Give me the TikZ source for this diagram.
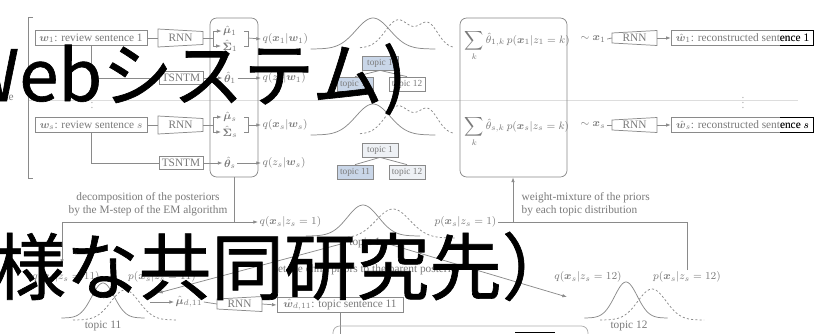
\documentclass[tikz,border=0pt]{standalone}
\usepackage{fontspec}
\setmainfont{Liberation Serif}
\newfontfamily\jpfont[FakeBold=0.9]{Noto Sans CJK JP}
\usepackage{bm}
\usetikzlibrary{arrows.meta,calc}
\definecolor{gtx}{HTML}{7A7A7A}
\definecolor{gln}{HTML}{8A8A8A}
\definecolor{sepc}{HTML}{DDDDDD}
\definecolor{tblue}{HTML}{C9D6E8}
\definecolor{tlight}{HTML}{EEF1F5}
\newcommand\encrnn[3]{%
  \node[lbl] (#1) at (#2,#3) {RNN};
  \coordinate (#1w) at ($(#1)+(-22.5,0)$);
  \coordinate (#1e) at ($(#1)+(22.5,0)$);
  \draw[ln] ($(#1)+(-22.5,-9)$) -- ($(#1)+(22.5,-6.5)$) -- ($(#1)+(22.5,6.5)$) -- ($(#1)+(-22.5,9)$) -- cycle;}
\newcommand\decrnn[3]{%
  \node[lbl] (#1) at (#2,#3) {RNN};
  \coordinate (#1w) at ($(#1)+(-22.5,0)$);
  \coordinate (#1e) at ($(#1)+(22.5,0)$);
  \draw[ln] ($(#1)+(-22.5,-5)$) -- ($(#1)+(22.5,-7.5)$) -- ($(#1)+(22.5,7.5)$) -- ($(#1)+(-22.5,5)$) -- cycle;}
\newcommand\gsolid[4]{% center, base, height, a
  \draw[ln] plot[domain=-2.6*#4:2.6*#4, samples=60, smooth] ({#1+\x},{#2-#3*exp(0-(\x/#4)*(\x/#4))});}
\newcommand\gdash[4]{%
  \draw[ln, dash pattern=on 1.6pt off 1.6pt] plot[domain=-2.6*#4:2.6*#4, samples=60, smooth] ({#1+\x},{#2-#3*exp(0-(\x/#4)*(\x/#4))});}
\begin{document}
\begin{tikzpicture}[x=0.75pt,y=-0.75pt,
  every node/.style={text=gtx, font=\fontsize{8.5}{10}\selectfont},
  ln/.style={draw=gln, line width=0.55pt},
  arr/.style={ln, -{Latex[length=3.5pt,width=2.6pt]}},
  sbox/.style={draw=gln, line width=0.55pt, minimum height=11.5pt, inner sep=1.5pt},
  tbox/.style={draw=gln, line width=0.55pt, minimum width=27pt, minimum height=10.5pt, inner sep=0.5pt, font=\fontsize{7}{8}\selectfont},
  lbl/.style={inner sep=1pt},
  jp/.style={text=black, inner sep=0pt},
]
\useasboundingbox (0,0) rectangle (827,333);
\clip (0,0) rectangle (827,333);
\fill[white] (0,0) rectangle (827,333);

% separator and brackets
\draw[sepc, line width=0.6pt] (28,100) -- (798,100);
\draw[ln] (33,17) -- (28,17) -- (28,178) -- (33,178);
\node[anchor=east, inner sep=0pt] (ce) at (14,98) {ce};
\node[text=gln!70] (vd1) at (92,99) {$\vdots$};
\node[text=gln!70] (vd2) at (743,99) {$\vdots$};

% encoder box and mixture box
\node[draw=gln, line width=0.55pt, rounded corners=5pt, minimum width=36pt, minimum height=119.25pt, inner sep=0pt] (enc) at (234,97.5) {};
\node[draw=gln, line width=0.55pt, rounded corners=5pt, minimum width=80.25pt, minimum height=119.25pt, inner sep=0pt] (mix) at (513.5,97.5) {};

% ---------- row 1 ----------
\node[sbox, minimum width=84pt] (w1) at (91,38) {$\bm{w}_1$: review sentence 1};
\encrnn{r1}{180.5}{38}
\draw[ln] (w1.east) -- (r1w);
\coordinate (b1) at (213,38);
\draw[ln] (r1e) -- (b1);
\node[lbl] (mu1) at (230,31) {$\hat{\bm{\mu}}_1$};
\node[lbl] (sg1) at (230,46) {$\hat{\bm{\Sigma}}_1$};
\draw[arr] (b1) |- (mu1.west);
\draw[arr] (b1) |- (sg1.west);
\draw[ln] (244,31) -- (248,31) -- (248,46) -- (244,46);
\coordinate (k1) at (248,38);
\node[lbl, anchor=west] (qx1) at (261,39) {$q(\bm{x}_1|\bm{w}_1)$};
\draw[arr] (k1) -- (qx1.west);
\node[sbox, minimum width=33pt, minimum height=10pt] (ts1) at (181,78) {TSNTM};
\draw[ln] (w1.south) |- (ts1.west);
\node[lbl] (th1) at (230,78) {$\hat{\bm{\theta}}_1$};
\draw[arr] (ts1.east) -- (th1.west);
\node[lbl, anchor=west] (qz1) at (261,78) {$q(z_1|\bm{w}_1)$};
\draw[arr] (th1.east) -- (qz1.west);

\gsolid{373}{49}{31}{24}
\draw[ln, dash pattern=on 1.6pt off 1.6pt] plot[domain=360:454, samples=70, smooth] (\x,{48-28*exp(0-((\x-398)/18)*((\x-398)/18))-24*exp(0-((\x-428)/14)*((\x-428)/14))});
\node[tbox, fill=tblue] (ta1) at (380,63) {topic 1};
\node[tbox, fill=tblue] (ta11) at (355,84) {topic 11};
\node[tbox, fill=white] (ta12) at (407,84) {topic 12};
\draw[ln] (ta1.south) -- (ta11.north);
\draw[ln] (ta1.south) -- (ta12.north);

\node[lbl, anchor=base west] (f1) at (463,43) {$\displaystyle\sum_k \hat{\theta}_{1,k}\, p(\bm{x}_1|z_1=k)$};
\node[lbl, anchor=west] (sx1) at (579,39) {$\sim\bm{x}_1$};
\decrnn{d1}{634.5}{38}
\draw[ln] (sx1.east) -- (d1w);
\node[sbox, minimum width=107pt] (o1) at (742.5,38) {$\hat{\bm{w}}_1$: reconstructed sentence 1};
\draw[arr] (d1e) -- (o1.west);

% ---------- row s ----------
\node[sbox, minimum width=84pt] (ws) at (91,125) {$\bm{w}_s$: review sentence $s$};
\encrnn{rs}{180.5}{125}
\draw[ln] (ws.east) -- (rsw);
\coordinate (bs) at (213,125);
\draw[ln] (rse) -- (bs);
\node[lbl] (mus) at (230,117) {$\hat{\bm{\mu}}_s$};
\node[lbl] (sgs) at (230,132) {$\hat{\bm{\Sigma}}_s$};
\draw[arr] (bs) |- (mus.west);
\draw[arr] (bs) |- (sgs.west);
\draw[ln] (244,117) -- (248,117) -- (248,132) -- (244,132);
\coordinate (ks) at (248,125);
\node[lbl, anchor=west] (qxs) at (261,125) {$q(\bm{x}_s|\bm{w}_s)$};
\draw[arr] (ks) -- (qxs.west);
\node[sbox, minimum width=33pt, minimum height=10pt] (tss) at (181,163) {TSNTM};
\draw[ln] (ws.south) |- (tss.west);
\node[lbl] (ths) at (230,163) {$\hat{\bm{\theta}}_s$};
\draw[arr] (tss.east) -- (ths.west);
\node[lbl, anchor=west] (qzs) at (261,163) {$q(z_s|\bm{w}_s)$};
\draw[arr] (ths.east) -- (qzs.west);

\gsolid{373}{135}{31}{24}
\draw[ln, dash pattern=on 1.6pt off 1.6pt] plot[domain=360:454, samples=70, smooth] (\x,{134-28*exp(0-((\x-398)/18)*((\x-398)/18))-24*exp(0-((\x-428)/14)*((\x-428)/14))});
\node[tbox, fill=tlight] (tb1) at (380,150) {topic 1};
\node[tbox, fill=tblue] (tb11) at (355,172) {topic 11};
\node[tbox, fill=tlight] (tb12) at (407,172) {topic 12};
\draw[ln] (tb1.south) -- (tb11.north);
\draw[ln] (tb1.south) -- (tb12.north);

\node[lbl, anchor=base west] (fs) at (463,129) {$\displaystyle\sum_k \hat{\theta}_{s,k}\, p(\bm{x}_s|z_s=k)$};
\node[lbl, anchor=west] (sxs) at (579,125) {$\sim\bm{x}_s$};
\decrnn{ds}{634.5}{125}
\draw[ln] (sxs.east) -- (dsw);
\node[sbox, minimum width=107pt] (os) at (742.5,125) {$\hat{\bm{w}}_s$: reconstructed sentence $s$};
\draw[arr] (dse) -- (os.west);

% black overlay on the right end of the reconstructed boxes
\begin{scope}
\clip (780,0) rectangle (827,333);
\node[sbox, minimum width=107pt, draw=black, text=black] (o1k) at (742.5,38) {$\hat{\bm{w}}_1$: reconstructed sentence 1};
\node[sbox, minimum width=107pt, draw=black, text=black] (osk) at (742.5,125) {$\hat{\bm{w}}_s$: reconstructed sentence $s$};
\end{scope}

% ---------- bottom ----------
\coordinate (jn) at (234,222);
\draw[ln] (enc.south) -- (jn);
\coordinate (dn) at (62,264);
\draw[arr] (jn) -| (dn);
\node[lbl, anchor=west] (q1b) at (258,222) {$q(\bm{x}_s|z_s=1)$};
\draw[arr] (jn) -- (q1b.west);
\node[align=center] (dec) at (148,204) {decomposition of the posteriors\\by the M-step of the EM algorithm};

\gsolid{363}{236}{31}{22}
\gdash{393}{238}{29}{24}
\node (tl1) at (365,243) {topic 1};
\node (setp) at (367,270) {set the child priors to the parent posterior};
\coordinate (a11) at (158,293);
\coordinate (a12) at (567,297);
\draw[arr] (tl1.west) -- (a11);
\draw[arr] (tl1.east) -- (a12);

\node[lbl, anchor=east] (p1b) at (498,222) {$p(\bm{x}_s|z_s=1)$};
\coordinate (jm) at (513,222);
\draw[ln] (p1b.east) -- (jm);
\draw[arr] (jm) -- (mix.south -| jm);
\node[align=left, anchor=west] (wm) at (517,204) {weight-mixture of the priors\\by each topic distribution};

\node[lbl] (q12) at (588,277) {$q(\bm{x}_s|z_s=12)$};
\node[lbl] (p12) at (687,277) {$p(\bm{x}_s|z_s=12)$};
\draw[ln] (p12.north) |- (jm);
\gsolid{626}{318}{36}{16}
\gdash{652}{320}{31}{20}
\node (tl12) at (629,326) {topic 12};

\node[lbl] (q11) at (66,277) {$q(\bm{x}_s|z_s=11)$};
\node[lbl] (p11) at (162,277) {$p(\bm{x}_s|z_s=11)$};
\gsolid{103}{318}{35}{16}
\gdash{125}{320}{30}{20}
\node (tl11) at (103,326) {topic 11};

\coordinate (mst) at (150,302);
\node[lbl] (mud) at (189,302) {$\hat{\bm{\mu}}_{d,11}$};
\draw[arr] (mst) -- (mud.west);
\decrnn{d3}{239.5}{304}
\draw[ln] (mud.east) -- (d3w);
\node[sbox, minimum width=94.5pt] (td) at (340,305) {$\hat{\bm{w}}_{d,11}$: topic sentence 11};
\draw[arr] (d3e) -- (td.west);
\coordinate (tdb) at (340,345);
\draw[ln] (td.south) -- (tdb);
\node[draw=gln!70, line width=0.55pt, rounded corners=5pt, minimum width=191.25pt, minimum height=30pt, inner sep=0pt] (bb) at (460.5,346) {};
\draw[black, line width=0.6pt] (515,332) -- (555,332);

% ---------- overlay text ----------
\node[jp, anchor=base west, font=\jpfont\fontsize{53}{60}\selectfont] (jp1) at (-43,101) {Webシステム)};
\node[jp, anchor=base west, font=\jpfont\fontsize{54.5}{60}\selectfont] (jp2) at (-7,294) {様な共同研究先）};
\end{tikzpicture}
\end{document}
